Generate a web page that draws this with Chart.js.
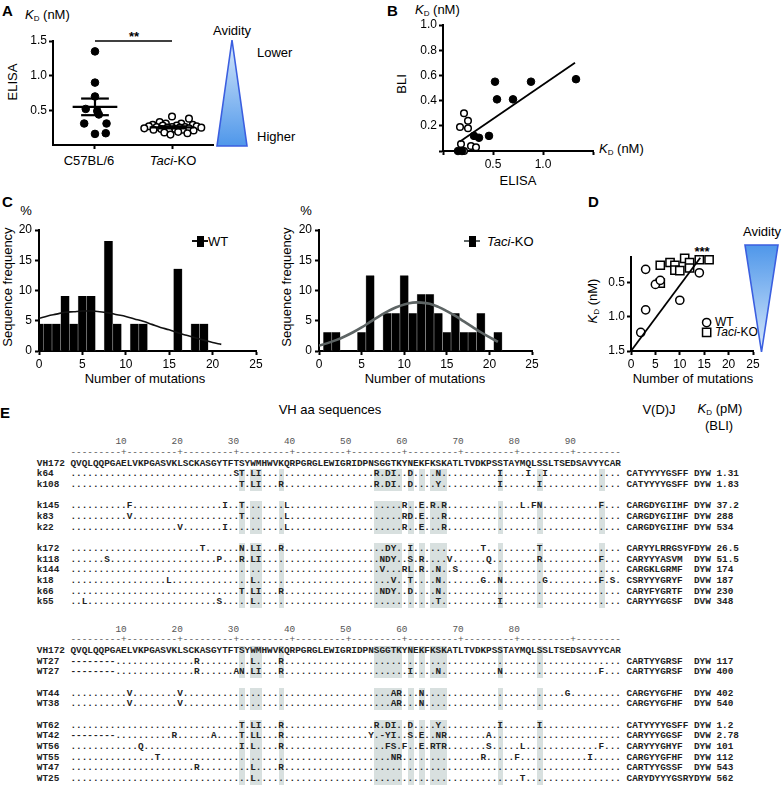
<!DOCTYPE html>
<html><head><meta charset="utf-8">
<script src="https://cdn.jsdelivr.net/npm/chart.js@4.4.1/dist/chart.umd.min.js"></script>
<style>
body{margin:0;width:783px;height:803px;position:relative;background:#fff;font-family:'Liberation Sans',Arial,sans-serif;color:#000;overflow:hidden}
.t{position:absolute;white-space:nowrap;transform:translate(-50%,-50%);font-size:13px;line-height:1}
.l{position:absolute;white-space:nowrap;font-size:13px;line-height:1;transform:translate(0,-50%)}
.pl{position:absolute;font-weight:bold;font-size:15px;line-height:1}
.rot{transform:translate(-50%,-50%) rotate(-90deg)}
sub{font-size:8px;vertical-align:-2px}
.mono{position:absolute;font-family:'Liberation Mono',monospace;font-size:9.37px;line-height:10.65px;height:10.65px;white-space:pre;color:#222;font-weight:bold;z-index:2}
.ruler{font-weight:normal;color:#555}
.shade{position:absolute;background:#d8e0df;z-index:1}
canvas{position:absolute}
</style></head><body>
<svg style="position:absolute;left:0;top:0" width="783" height="803">
<defs>
<linearGradient id="gA" x1="0" y1="0" x2="0" y2="1"><stop offset="0" stop-color="#d6e8fb"/><stop offset="1" stop-color="#4f97ea"/></linearGradient>
<linearGradient id="gD" x1="0" y1="0" x2="0" y2="1"><stop offset="0" stop-color="#4f97ea"/><stop offset="1" stop-color="#d6e8fb"/></linearGradient>
</defs>
<polygon points="232,40 217,146 247,146" fill="url(#gA)" stroke="#3b5fe0" stroke-width="1.6"/>
<polygon points="745,245 778,245 761.5,352" fill="url(#gD)" stroke="#3b5fe0" stroke-width="1.6"/>
</svg>

<!-- Panel A text -->
<div class="pl" style="left:2px;top:3px">A</div>
<div class="l" style="left:25px;top:15px"><i>K</i><sub>D</sub> (nM)</div>
<div class="t rot" style="left:12px;top:82px">ELISA</div>
<div class="t" style="left:134px;top:36px;font-weight:bold">**</div>
<div class="t" style="left:232px;top:30px">Avidity</div>
<div class="l" style="left:257px;top:52px">Lower</div>
<div class="l" style="left:257px;top:136px">Higher</div>
<div class="t" style="left:89px;top:160px">C57BL/6</div>
<div class="t" style="left:173px;top:160px"><i>Taci</i>-KO</div>

<!-- Panel B text -->
<div class="pl" style="left:387px;top:3px">B</div>
<div class="l" style="left:415px;top:10px"><i>K</i><sub>D</sub> (nM)</div>
<div class="t rot" style="left:401px;top:84px">BLI</div>
<div class="l" style="left:599px;top:149px"><i>K</i><sub>D</sub> (nM)</div>
<div class="t" style="left:518px;top:180px">ELISA</div>

<!-- Panel C text -->
<div class="pl" style="left:2px;top:194px">C</div>
<div class="t" style="left:26px;top:210px">%</div>
<div class="t rot" style="left:7px;top:287px">Sequence frequency</div>
<div class="t" style="left:145px;top:378px">Number of mutations</div>
<div class="l" style="left:208px;top:241px">WT</div>
<div class="t" style="left:306px;top:210px">%</div>
<div class="t rot" style="left:286px;top:287px">Sequence frequency</div>
<div class="t" style="left:425px;top:378px">Number of mutations</div>
<div class="l" style="left:487px;top:241px"><i>Taci</i>-KO</div>

<!-- Panel D text -->
<div class="pl" style="left:588px;top:194px">D</div>
<div class="t" style="left:702px;top:251px;font-weight:bold">***</div>
<div class="t rot" style="left:593px;top:301px"><i>K</i><sub>D</sub> (nM)</div>
<div class="t" style="left:693px;top:378px">Number of mutations</div>
<div class="l" style="left:715px;top:322px;font-size:12px">WT</div>
<div class="l" style="left:715px;top:332px;font-size:12px"><i>Taci</i>-KO</div>
<div class="t" style="left:762px;top:231px">Avidity</div>

<!-- Panel E text -->
<div class="pl" style="left:0px;top:405px">E</div>
<div class="t" style="left:330px;top:409px">VH aa sequences</div>
<div class="t" style="left:659px;top:409px">V(D)J</div>
<div class="t" style="left:720px;top:409px"><i>K</i><sub>D</sub> (pM)</div>
<div class="t" style="left:719px;top:425px">(BLI)</div>

<script>
// ---------------- DATA ----------------
// Panel A: ELISA KD (nM)
const groupsA = ['C57BL/6', 'Taci-KO'];
const c57Kd  = [1.35, 0.90, 0.70, 0.52, 0.49, 0.44, 0.31, 0.31, 0.16, 0.17];
const c57Dx  = [0.00, 0.00, 0.00, -0.12, 0.03, 0.05, -0.14, 0.15, 0.00, 0.14];
const koKdA  = [0.41, 0.38, 0.33, 0.31, 0.31, 0.29, 0.29, 0.28, 0.28, 0.27, 0.27, 0.26, 0.26, 0.26, 0.25, 0.25, 0.25, 0.24, 0.24, 0.23, 0.23, 0.22, 0.22, 0.21, 0.20, 0.19, 0.18, 0.17, 0.15];
const koDxA  = [0.00, 0.22, -0.16, -0.08, 0.12, -0.25, 0.27, -0.12, 0.06, -0.30, 0.32, -0.20, 0.00, 0.17, -0.06, 0.10, 0.38, -0.36, 0.22, -0.14, 0.04, -0.24, 0.14, 0.28, -0.04, 0.08, -0.10, 0.20, -0.02];
const meanA  = [0.55, 0.255];
const semA   = [0.12, 0.015];

// Panel B: ELISA vs BLI KD (nM)
const bWtX = [0.52, 0.54, 0.70, 0.88, 1.33, 0.46, 0.36, 0.31, 0.15, 0.19];
const bWtY = [0.55, 0.41, 0.41, 0.55, 0.57, 0.12, 0.105, 0.12, 0.00, 0.00];
const bKoX = [0.21, 0.17, 0.25, 0.25, 0.18, 0.28, 0.33, 0.21];
const bKoY = [0.30, 0.19, 0.24, 0.18, 0.055, 0.04, 0.03, 0.00];
const bFitX = [0.17, 1.32];
const bFitY = [0.075, 0.70];

// Panel C: mutation histograms (%)
const mutBins = [0,1,2,3,4,5,6,7,8,9,10,11,12,13,14,15,16,17,18,19,20,21];
const wtFreq  = [4.5,4.5,4.5,9.1,4.5,9.1,9.1,0,18.2,4.5,0,4.5,4.5,0,0,0,13.6,0,4.5,4.5,0,0];
const koFreq  = [0,3.1,3.1,0,0,3.1,12.5,0,6.25,6.25,12.5,6.25,9.4,9.4,6.25,3.1,6.25,3.1,3.1,6.25,0,3.1];
const wtFit   = [5.4,5.8,6.1,6.4,6.5,6.6,6.6,6.5,6.3,6.0,5.7,5.3,4.9,4.4,3.9,3.5,3.0,2.6,2.2,1.8,1.4,1.1];
const koFit   = [0.9,1.3,1.8,2.4,3.1,3.9,4.8,5.7,6.5,7.2,7.7,8.0,8.0,7.8,7.3,6.6,5.8,4.9,4.0,3.1,2.3,1.5];

// Panel D: mutations vs KD (nM)
const dWtMut = [3, 5, 6, 3, 2, 10, 14];
const dWtKd  = [0.31, 0.53, 0.47, 0.90, 1.23, 0.76, 0.36];
const dKoMut = [6, 6, 8, 9, 9, 10, 11, 12, 12, 14, 16];
const dKoKd  = [0.25, 0.51, 0.21, 0.25, 0.32, 0.33, 0.15, 0.21, 0.29, 0.17, 0.17];
const dFitX  = [0, 14.2];
const dFitY  = [1.5, 0.14];

// Panel E: alignment
const vh172 = "QVQLQQPGAELVKPGASVKLSCKASGYTFTSYWMHWVKQRPGRGLEWIGRIDPNSGGTKYNEKFKSKATLTVDKPSSTAYMQLSSLTSEDSAVYYCAR";
const rulerTicks1 = [10,20,30,40,50,60,70,80,90];
const rulerTicks2 = [10,20,30,40,50,60,70,80];
const shadeCols1 = [31,33,34,38,55,56,57,58,59,61,63,65,66,67,77,84,95];
const shadeCols2 = [31,33,34,38,55,56,57,58,59,61,63,65,66,67,77,84];
const block1 = [
 ['k64','30S 31T 33L 34I 55R 57D 58I 61D 66N 77I 82I 85I','CATYYYYGSFF DYW','1.31'],
 ['k108','31T 33L 34I 38R 55R 57D 58I 61D 66Y 77I 84I','CATYYYYGSFF DYW','1.83'],
 null,
 ['k145','11F 28I 31T 39L 60R 63E 65R 67R 81L 83F 84N 95F','CARGDYGIIHF DYW','37.2'],
 ['k83','11V 31T 39L 60R 61D 63E 67R','CARGDYGIIHF DYW','288'],
 ['k22','20V 28I 39L 60R 63E 67R','CARGDYGIIHF DYW','534'],
 null,
 ['k172','24T 31N 33L 34I 38R 57D 58Y 61I 74T 84T','CARYYLRRGSYFDYW','26.5'],
 ['k118','7S 27P 31R 33L 34I 56N 57D 58Y 61S 63R 68V 75Q 84R 95F','CARYYYASVM  DYW','51.5'],
 ['k144','56V 60R 61L 63R 66N 69S','CARGKLGRMF  DYW','174'],
 ['k18','18L 33L 58V 61T 66N 74G 77N 85G 95F 97S','CSRYYYGRYF  DVW','187'],
 ['k66','31T 33L 34I 38R 56N 57D 58Y 61D 66N','CARYFYGRTF  DYW','230'],
 ['k55','3L 27S 33L 66T 77I','CARYYYGGSF  DVW','348']
];
const block2 = [
 ['WT27','1-8:- 23R 33L 38R','CARTYYGRSF  DYW','117'],
 ['WT27','1-8:- 23R 30A 31N 33L 34I 38R 61I 66N 77N 95F','CARTYYGRSF  DYW','400'],
 null,
 ['WT44','11V 20V 58A 59R 63N 89G','CARGYYGFHF  DYW','402'],
 ['WT38','11V 20V 58A 59R 63N','CARGYYGFHF  DYW','540'],
 null,
 ['WT62','31T 33L 34I 38R 55R 57D 58I 61D 66Y 77I 84I','CATYYYYGSFF DYW','1.2'],
 ['WT42','1-8:- 19R 26A 31T 33L 34L 38R 54Y 56- 57Y 58I 61S 63E 66N 67R 75A','CARYYYGGSF  DVW','2.78'],
 ['WT56','13Q 31I 33L 38R 57F 58S 60F 63E 65R 66T 67R 75S 81L 95F','CARYYYGHYF  DYW','101'],
 ['WT55','16T 58N 59R 74R 80F 93I','CARGYYGFHF  DYW','112'],
 ['WT47','23R 33L 38R','CARTYYGSSF  DYW','543'],
 ['WT25','33L 81T','CARYDYYYGSRYDYW','562']
];

// ---------------- CHARTS ----------------
const FONT = {family:"'Liberation Sans', Arial, sans-serif", size:12};
function axis(extra){
  return Object.assign({
    grid:{display:true, drawOnChartArea:false, drawTicks:true, tickLength:4, tickWidth:2, tickColor:'#000'},
    border:{display:true, width:2, color:'#000'},
    ticks:{color:'#000', font:FONT, padding:2}
  }, extra);
}
function makeChart(box, area, type, datasets, xs, ys){
  const cv = document.createElement('canvas');
  cv.width = box.w; cv.height = box.h;
  cv.style.left = box.x+'px'; cv.style.top = box.y+'px';
  cv.style.width = box.w+'px'; cv.style.height = box.h+'px';
  document.body.appendChild(cv);
  xs.afterFit = s => { s.height = box.y + box.h - area.b; };
  ys.afterFit = s => { s.width = area.l - box.x; };
  return new Chart(cv, {type, data:{datasets}, options:{
    responsive:false, animation:false, devicePixelRatio:1,
    layout:{padding:{top:area.t-box.y, right:box.x+box.w-area.r, left:0, bottom:0}},
    plugins:{legend:{display:false}, tooltip:{enabled:false}},
    scales:{x:xs, y:ys}
  }});
}
const seg = (pts, color, w, extra) => Object.assign({type:'scatter', data:pts, showLine:true, borderColor:color, borderWidth:w, pointRadius:0, fill:false, order:0, clip:false}, extra||{});
const dots = (pts, filled, r, extra) => Object.assign({type:'scatter', data:pts, pointRadius:r, pointBackgroundColor: filled?'#000':'#fff', pointBorderColor:'#000', pointBorderWidth: filled?1:1.5, showLine:false, order:1, clip:false}, extra||{});

// Panel A
(function(){
  const ds = [];
  ds.push(dots(c57Kd.map((v,i)=>({x:c57Dx[i], y:v})), true, 3.8));
  ds.push(dots(koKdA.map((v,i)=>({x:1+koDxA[i], y:v})), false, 3.3));
  meanA.forEach((m,g)=>{
    ds.push(seg([{x:g-0.29,y:m},{x:g+0.29,y:m}], '#000', 2.2));
    ds.push(seg([{x:g,y:m-semA[g]},{x:g,y:m+semA[g]}], '#000', 2.2));
    ds.push(seg([{x:g-0.18,y:m+semA[g]},{x:g+0.18,y:m+semA[g]}], '#000', 2.2));
    ds.push(seg([{x:g-0.18,y:m-semA[g]},{x:g+0.18,y:m-semA[g]}], '#000', 2.2));
  });
  ds.push(seg([{x:0,y:1.5},{x:1,y:1.5}], '#000', 1.5));
  makeChart({x:0,y:25,w:225,h:150},{l:53,t:41,r:213,b:145},'scatter',ds,
    axis({type:'linear', min:-0.545, max:1.532, afterBuildTicks:s=>{s.ticks=[{value:0},{value:1}];}, ticks:{display:false}}),
    axis({type:'linear', min:0, max:1.5, afterBuildTicks:s=>{s.ticks=[0.5,1,1.5].map(v=>({value:v}));}, ticks:{color:'#000',font:FONT,padding:2,callback:v=>v.toFixed(1)}}));
})();

// Panel B
(function(){
  const ds = [];
  ds.push(dots(bWtX.map((x,i)=>({x, y:bWtY[i]})), true, 3.8));
  ds.push(dots(bKoX.map((x,i)=>({x, y:bKoY[i]})), false, 3.3));
  ds.push(seg(bFitX.map((x,i)=>({x, y:bFitY[i]})), '#000', 1.8));
  makeChart({x:400,y:10,w:205,h:170},{l:443,t:25,r:593,b:151},'scatter',ds,
    axis({type:'linear', min:0, max:1.5, afterBuildTicks:s=>{s.ticks=[0,0.5,1,1.5].map(v=>({value:v}));}, ticks:{color:'#000',font:FONT,padding:2,callback:v=>(v===0.5||v===1)?v.toFixed(1):''}}),
    axis({type:'linear', min:0, max:1, afterBuildTicks:s=>{s.ticks=[0,0.2,0.4,0.6,0.8,1].map(v=>({value:v}));}, ticks:{color:'#000',font:FONT,padding:2,callback:v=>v===0?'':v.toFixed(1)}}));
})();

// Panel C
function hist(box, area, freq, fit, lineColor, lineW){
  const ds = [
    {type:'line', data:mutBins.map((x,i)=>({x, y:fit[i]})), borderColor:lineColor, borderWidth:lineW, pointRadius:0, tension:0.4, fill:false, order:0},
    {type:'bar', data:mutBins.map((x,i)=>({x, y:freq[i]})), backgroundColor:'#000', borderColor:'#9a9a9a', borderWidth:{left:0.6,right:0.6,top:0,bottom:0}, barPercentage:1, categoryPercentage:1, order:1}
  ];
  makeChart(box, area, 'bar', ds,
    axis({type:'linear', min:0, max:25, offset:false, grid:{display:true, offset:false, drawOnChartArea:false, drawTicks:true, tickLength:4, tickWidth:2, tickColor:'#000'}, ticks:{color:'#000',font:FONT,padding:2,stepSize:5}}),
    axis({type:'linear', min:0, max:20, ticks:{color:'#000',font:FONT,padding:3,stepSize:5}}));
}
hist({x:0,y:215,w:270,h:160},{l:39,t:230,r:256,b:351}, wtFreq, wtFit, '#111', 1.6);
hist({x:280,y:215,w:265,h:160},{l:319,t:230,r:532,b:351}, koFreq, koFit, '#5d6464', 2.6);

// Panel D
(function(){
  const ds = [];
  ds.push(dots(dWtMut.map((x,i)=>({x, y:dWtKd[i]})), false, 4.1));
  ds.push(dots(dKoMut.map((x,i)=>({x, y:dKoKd[i]})), false, 5.8, {pointStyle:'rect'}));
  ds.push(seg(dFitX.map((x,i)=>({x, y:dFitY[i]})), '#000', 1.8));
  // legend markers
  ds.push(dots([{x:15.5,y:1.085}], false, 4.1));
  ds.push(dots([{x:15.5,y:1.23}], false, 5.8, {pointStyle:'rect'}));
  makeChart({x:595,y:240,w:172,h:135},{l:631,t:257,r:753,b:351},'scatter',ds,
    axis({type:'linear', min:0, max:25, ticks:{color:'#000',font:FONT,padding:2,stepSize:5}}),
    axis({type:'linear', min:0.13, max:1.5, reverse:true, afterBuildTicks:s=>{s.ticks=[0.5,1,1.5].map(v=>({value:v}));}, ticks:{color:'#000',font:FONT,padding:2,callback:v=>v.toFixed(1)}}));
})();

// Legend symbols for C
function legendBar(x, y, lineColor){
  const d = document.createElement('div');
  d.style.cssText = `position:absolute;left:${x-8}px;top:${y-1}px;width:16px;height:2px;background:${lineColor}`;
  document.body.appendChild(d);
  const b = document.createElement('div');
  b.style.cssText = `position:absolute;left:${x-3}px;top:${y-5.5}px;width:7px;height:11px;background:#000`;
  document.body.appendChild(b);
}
legendBar(200, 241, '#111');
legendBar(472, 241, '#5d6464');

// ---------------- ALIGNMENT (Panel E) ----------------
const CW = 5.623, X0 = 36.8, LH = 10.65, SEQX = X0 + 6*CW;
function mutRow(muts){
  const a = Array(vh172.length).fill('.');
  muts.split(' ').forEach(tok=>{
    if(tok.includes(':')){ const [r,ch]=tok.split(':'); const [s,e]=r.split('-').map(Number); for(let i=s;i<=e;i++) a[i-1]=ch; }
    else { a[parseInt(tok)-1] = tok.slice(-1); }
  });
  return a.join('');
}
function addLine(text, top, cls){
  const d = document.createElement('div');
  d.className = 'mono' + (cls?' '+cls:'');
  d.style.left = X0+'px'; d.style.top = top+'px';
  d.textContent = text;
  document.body.appendChild(d);
}
function drawBlock(top, ticks, rows, shadeCols, shadeHeader){
  const nums = Array(vh172.length).fill(' ');
  ticks.forEach(t=>{ const s=String(t); for(let k=0;k<s.length;k++) nums[t-s.length+k]=s[k]; });
  addLine('      '+nums.join(''), top, 'ruler');
  addLine('      '+vh172.split('').map((c,i)=>(i+1)%10===0?'+':'-').join(''), top+LH, 'ruler');
  addLine('VH172 '+vh172, top+2*LH);
  const lines = [];
  rows.forEach((r,i)=>{
    const y = top + (3+i)*LH;
    lines.push(r ? y : null);
    if(r) addLine(r[0].padEnd(6)+mutRow(r[1])+' '+r[2].padEnd(15)+' '+r[3], y);
  });
  const groups = []; let cur = shadeHeader ? [top+2*LH] : [];
  lines.forEach(y=>{ if(y===null){ if(cur.length) groups.push(cur); cur=[]; } else cur.push(y); });
  if(cur.length) groups.push(cur);
  const runs = []; shadeCols.forEach(c=>{ const last=runs[runs.length-1]; if(last && last[1]===c-1) last[1]=c; else runs.push([c,c]); });
  groups.forEach(g=>{
    const y0 = g[0], y1 = g[g.length-1] + LH;
    runs.forEach(([a,b])=>{
      const s = document.createElement('div'); s.className='shade';
      s.style.left = (SEQX + (a-1)*CW)+'px'; s.style.width = ((b-a+1)*CW)+'px';
      s.style.top = (y0-0.5)+'px'; s.style.height = (y1-y0+1)+'px';
      document.body.appendChild(s);
    });
  });
}
drawBlock(437.4, rulerTicks1, block1, shadeCols1, false);
drawBlock(624.7, rulerTicks2, block2, shadeCols2, true);
</script>
</body></html>
